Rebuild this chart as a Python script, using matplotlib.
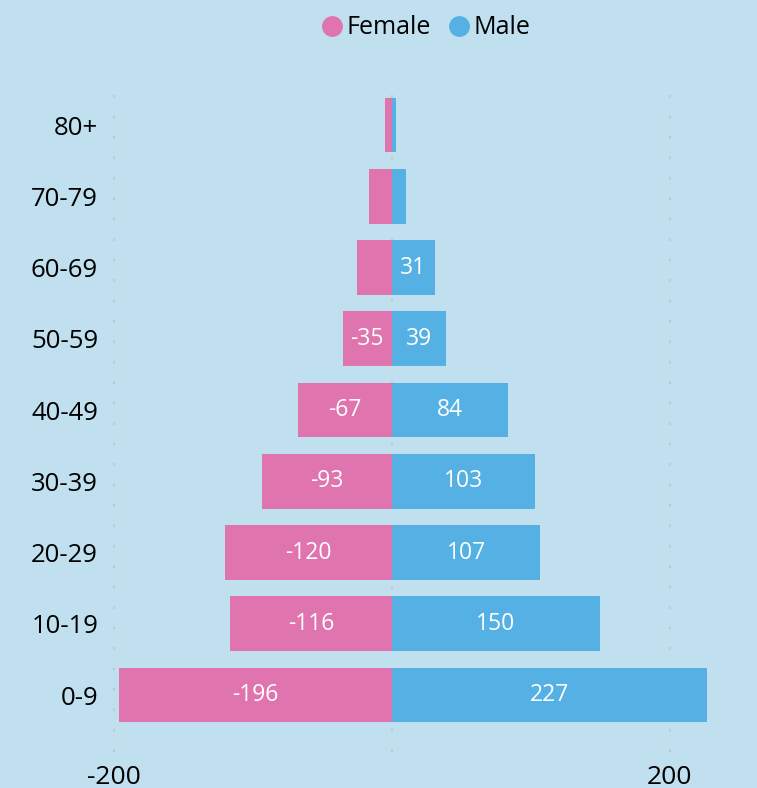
import matplotlib
matplotlib.use("Agg")
import matplotlib.pyplot as plt
from matplotlib.lines import Line2D

plt.rcParams['font.family'] = ['Open Sans', 'DejaVu Sans']

age_groups = ["0-9", "10-19", "20-29", "30-39", "40-49", "50-59", "60-69", "70-79", "80+"]
female = [-196, -116, -120, -93, -67, -35, -25, -16, -5]
male = [227, 150, 107, 103, 84, 39, 31, 10, 3]
x_ticks = [-200, 0, 200]
x_tick_labels = ["-200", "", "200"]

bg = "#c0e0ef"
pink = "#e074ae"
blue = "#55b0e3"

W, H = 757, 788
fig = plt.figure(figsize=(W / 100, H / 100), dpi=100, facecolor=bg)
# axes box in pixel terms: left 108.5, right 718.5, top 78, bottom 752
ax = fig.add_axes([108.5 / W, 1 - 752 / H, 610 / W, 674 / H], facecolor=bg)

y = list(range(len(age_groups)))
ax.barh(y, female, height=0.77, color=pink, zorder=2)
ax.barh(y, male, height=0.77, color=blue, zorder=2)

for yi, f, m in zip(y, female, male):
    if abs(f) >= 30:
        ax.text(f / 2, yi, f"{f}", color="white", ha="center", va="center", fontsize=16.5, zorder=3)
    if abs(m) >= 30:
        ax.text(m / 2, yi, f"{m}", color="white", ha="center", va="center", fontsize=16.5, zorder=3)

ax.set_xlim(-203.6, 235)
ax.set_ylim(-0.8, 8.66)
ax.set_xticks(x_ticks)
ax.set_xticklabels(x_tick_labels, fontsize=19)
ax.set_yticks(y)
ax.set_yticklabels(age_groups, fontsize=18.5)
ax.tick_params(axis='y', length=0, pad=7.5)
ax.tick_params(axis='x', length=0, pad=9)
ax.grid(axis='x', color="#c8c8c8", linestyle=(0, (1.2, 8)), linewidth=1.6, zorder=1)
for s in ax.spines.values():
    s.set_visible(False)

handles = [Line2D([], [], marker='o', linestyle='none', markersize=14, color=pink),
           Line2D([], [], marker='o', linestyle='none', markersize=14, color=blue)]
fig.legend(handles, ["Female", "Male"], loc="center", bbox_to_anchor=(0.557, 1 - 28 / H),
           ncol=2, frameon=False, fontsize=18, handletextpad=-0.15, columnspacing=0.35,
           handlelength=1.5)

fig.savefig("out.png", dpi=100, facecolor=bg)
